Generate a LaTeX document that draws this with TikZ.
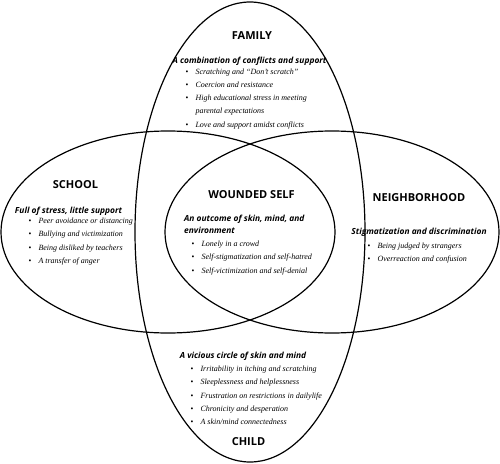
\documentclass[tikz,border=0pt]{standalone}
\usepackage{fontspec}
\setmainfont{Liberation Serif}
\newfontfamily\headfont{Open Sans}
\newcommand{\itembul}{\textup{\textbullet}}

\begin{document}
\begin{tikzpicture}
[x=1pt,y=-1pt,
	 region/.style={draw=black,line width=1.2pt},
	 heading/.style={anchor=base,inner sep=0pt,font=\headfont\bfseries\fontsize{11}{12}\selectfont},
	 subhead/.style={anchor=base,inner sep=0pt,font=\headfont\bfseries\itshape\fontsize{8.4}{12.5}\selectfont},
	 itemlist/.style={anchor=base west,inner sep=0pt,font=\itshape\fontsize{8}{13.3}\selectfont}];
\useasboundingbox (0,0) rectangle (500,463);

\draw[region] (250,232) ellipse [x radius=115, y radius=230];
\draw[region] (168,232) ellipse [x radius=167, y radius=101];
\draw[region] (332,232) ellipse [x radius=167, y radius=101];

\node[heading] (family) at (252,39) {FAMILY};
\node[subhead] (familysub) at (249.5,63) {A combination of conflicts and support};
\node[itemlist] (familylist) at (185.5,74) {\begin{tabular}[t]{@{}l@{\hspace{7pt}}l@{}}
\itembul & Scratching and “Don’t scratch” \\
\itembul & Coercion and resistance \\
\itembul & High educational stress in meeting \\
 & parental expectations \\
\itembul & Love and support amidst conflicts
\end{tabular}};

\node[heading] (school) at (75.5,188) {SCHOOL};
\node[subhead] (schoolsub) at (68.5,213) {Full of stress, little support};
\node[itemlist] (schoollist) at (28.5,223.5) {\begin{tabular}[t]{@{}l@{\hspace{7pt}}l@{}}
\itembul & Peer avoidance or distancing \\
\itembul & Bullying and victimization \\
\itembul & Being disliked by teachers \\
\itembul & A transfer of anger
\end{tabular}};

\node[heading] (self) at (251.5,198.5) {WOUNDED SELF};
\node[subhead,anchor=base west] (selfsub) at (184,221) {\begin{tabular}[t]{@{}l@{}}
An outcome of skin, mind, and \\
environment
\end{tabular}};
\node[itemlist] (selflist) at (191.5,246.5) {\begin{tabular}[t]{@{}l@{\hspace{7pt}}l@{}}
\itembul & Lonely in a crowd \\
\itembul & Self-stigmatization and self-hatred \\
\itembul & Self-victimization and self-denial
\end{tabular}};

\node[heading] (neighbor) at (419,201) {NEIGHBORHOOD};
\node[subhead] (neighborsub) at (419,234.5) {Stigmatization and discrimination};
\node[itemlist] (neighborlist) at (367.5,248) {\begin{tabular}[t]{@{}l@{\hspace{7pt}}l@{}}
\itembul & Being judged by strangers \\
\itembul & Overreaction and confusion
\end{tabular}};

\node[subhead] (childsub) at (243,358) {A vicious circle of skin and mind};
\node[itemlist] (childlist) at (190.5,371.5) {\begin{tabular}[t]{@{}l@{\hspace{7pt}}l@{}}
\itembul & Irritability in itching and scratching \\
\itembul & Sleeplessness and helplessness \\
\itembul & Frustration on restrictions in dailylife \\
\itembul & Chronicity and desperation \\
\itembul & A skin/mind connectedness
\end{tabular}};
\node[heading] (child) at (248.5,445) {CHILD};

\end{tikzpicture}
\end{document}
